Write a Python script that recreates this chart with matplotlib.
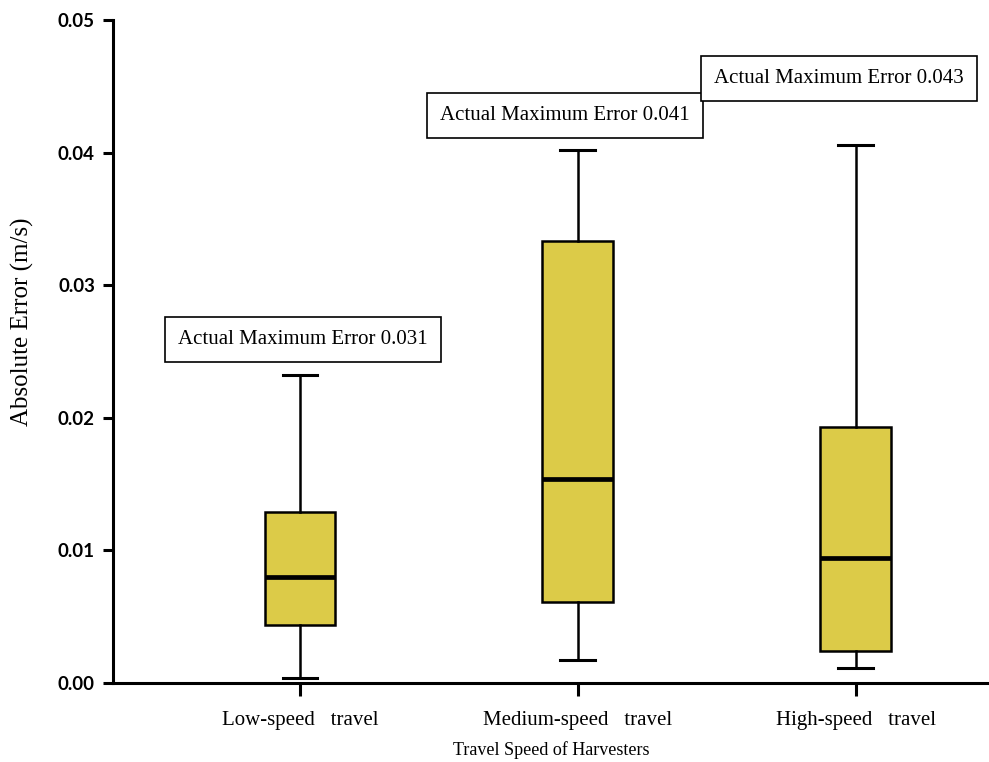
import matplotlib
matplotlib.use("Agg")
import matplotlib.pyplot as plt

# box plot statistics (m/s)
categories = ["Low-speed   travel", "Medium-speed   travel", "High-speed   travel"]
whislo = [0.0004, 0.0017, 0.0011]
q1 = [0.0044, 0.0061, 0.0024]
med = [0.0080, 0.0154, 0.0094]
q3 = [0.0129, 0.0333, 0.0193]
whishi = [0.0232, 0.0402, 0.0406]
max_errors = ["0.031", "0.041", "0.043"]
note_x = [1.011, 1.954, 2.94]
note_y = [0.0259, 0.0428, 0.0456]

serif = "Liberation Serif"

fig = plt.figure(figsize=(9.89, 7.62), dpi=100)
ax = fig.add_axes([0.1143, 0.1037, 0.8857, 0.870])

stats = []
for i in range(len(categories)):
    stats.append({"whislo": whislo[i], "q1": q1[i], "med": med[i],
                  "q3": q3[i], "whishi": whishi[i], "fliers": []})

positions = [1, 2, 3]
ax.bxp(stats, positions=positions, widths=0.255, capwidths=0.125,
       patch_artist=True, showfliers=False,
       boxprops=dict(facecolor="#dccb48", edgecolor="black", linewidth=1.8),
       medianprops=dict(color="black", linewidth=3.4),
       whiskerprops=dict(color="black", linewidth=1.8),
       capprops=dict(color="black", linewidth=2.2))

for x, y, m in zip(note_x, note_y, max_errors):
    ax.text(x, y, f"Actual Maximum Error {m}", ha="center", va="center",
            fontsize=15, family=serif,
            bbox=dict(boxstyle="square,pad=0.62", facecolor="white",
                      edgecolor="black", linewidth=1.2))

ax.set_xlim(0.327, 3.48)
ax.set_ylim(0, 0.05)
ax.set_yticks([0.0, 0.01, 0.02, 0.03, 0.04, 0.05])
ax.set_yticklabels(["0.00", "0.01", "0.02", "0.03", "0.04", "0.05"],
                   family="Lato", fontweight="bold", fontsize=13.5)
ax.set_xticks(positions)
ax.set_xticklabels(categories, family=serif, fontsize=15)

ax.spines["top"].set_visible(False)
ax.spines["right"].set_visible(False)
ax.spines["left"].set_linewidth(2.2)
ax.spines["bottom"].set_linewidth(2.2)
ax.tick_params(axis="y", length=7, width=2.2, pad=6)
ax.tick_params(axis="x", length=9, width=2.2, pad=11)

ax.set_ylabel("Absolute Error (m/s)", family=serif, fontsize=18)
ax.yaxis.set_label_coords(-0.0905, 0.545)
ax.set_xlabel("Travel Speed of Harvesters", family=serif, fontsize=13)
ax.xaxis.set_label_coords(0.5, -0.087)

fig.savefig("out.png", dpi=100)
